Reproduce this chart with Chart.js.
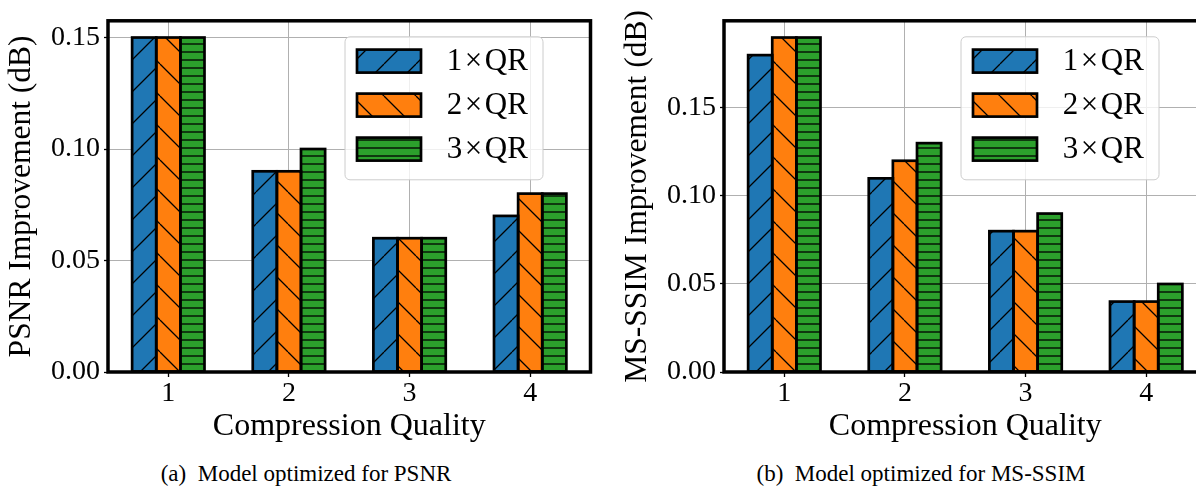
<!DOCTYPE html>
<html>
<head>
<meta charset="utf-8">
<script src="https://cdn.jsdelivr.net/npm/chart.js@4.4.1/dist/chart.umd.min.js"></script>
<style>
  html, body { margin: 0; padding: 0; background: #fff; }
  body { width: 1196px; height: 492px; overflow: hidden; position: relative; font-family: "Liberation Serif", serif; }
  .panel { position: absolute; top: 0; }
  .panel canvas { display: block; }
  .caption { position: absolute; top: 459px; font-size: 23px; line-height: 30px; white-space: pre; transform: translateX(-50%); color: #000; }
</style>
</head>
<body>
<div class="panel" style="left:0"><canvas id="psnrChart" width="600" height="450"></canvas></div>
<div class="panel" style="left:616px"><canvas id="ssimChart" width="600" height="450"></canvas></div>
<div class="caption" style="left:306px">(a)  Model optimized for PSNR</div>
<div class="caption" style="left:921px">(b)  Model optimized for MS-SSIM</div>
<script>
// data
const qualities = ["1", "2", "3", "4"];
const seriesNames = ["1×QR", "2×QR", "3×QR"];
const psnr1x = [0.15, 0.09, 0.06, 0.07];
const psnr2x = [0.15, 0.09, 0.06, 0.08];
const psnr3x = [0.15, 0.10, 0.06, 0.08];
const ssim1x = [0.18, 0.11, 0.08, 0.04];
const ssim2x = [0.19, 0.12, 0.08, 0.04];
const ssim3x = [0.19, 0.13, 0.09, 0.05];
const yTicks = [0, 0.05, 0.10, 0.15];

const barColors = ["#1f77b4", "#ff7f0e", "#2ca02c"];
const hatchKinds = ["/", "\\", "-"];
const family = "'Liberation Serif', 'Times New Roman', serif";

// build a hatch pattern tile like matplotlib's hatch
function makeHatch(color, kind) {
    const size = kind === "-" ? 8 : 32;
    const c = document.createElement("canvas");
    c.width = size;
    c.height = size;
    const g = c.getContext("2d");
    g.fillStyle = color;
    g.fillRect(0, 0, size, size);
    g.strokeStyle = "#000";
    g.lineWidth = 1.3;
    g.beginPath();
    if (kind === "-") {
        g.moveTo(0, size / 2);
        g.lineTo(size, size / 2);
    } else {
        for (let k = -1; k <= 1; k++) {
            const x0 = k * size;
            if (kind === "/") { g.moveTo(x0, size); g.lineTo(x0 + size, 0); }
            else { g.moveTo(x0, 0); g.lineTo(x0 + size, size); }
        }
    }
    g.stroke();
    return g.createPattern(c, "repeat");
}

const hatches = barColors.map((c, i) => makeHatch(c, hatchKinds[i]));

// black bar edges centered on the bar outline
const barEdges = {
    id: "barEdges",
    afterDatasetsDraw(chart) {
        const ctx = chart.ctx;
        ctx.save();
        ctx.strokeStyle = "#000";
        ctx.lineWidth = 2.7;
        chart.data.datasets.forEach((ds, i) => {
            chart.getDatasetMeta(i).data.forEach(bar => {
                const p = bar.getProps(["x", "y", "base", "width"], true);
                ctx.strokeRect(p.x - p.width / 2, p.y, p.width, p.base - p.y);
            });
        });
        ctx.restore();
    }
};

// legend box inside the plot + the four spines
const frameAndLegend = {
    id: "frameAndLegend",
    afterDraw(chart) {
        const { ctx, chartArea } = chart;
        const w = 198, h = 143;
        const left = chartArea.right - 47.5 - w;
        const top = chartArea.top + 16;

        ctx.save();
        ctx.beginPath();
        ctx.roundRect(left, top, w, h, 5);
        ctx.fillStyle = "rgba(255,255,255,0.8)";
        ctx.fill();
        ctx.strokeStyle = "#cccccc";
        ctx.lineWidth = 1;
        ctx.stroke();

        chart.data.datasets.forEach((ds, i) => {
            const cy = top + 24.3 + 44 * i;
            ctx.fillStyle = ds.backgroundColor;
            ctx.fillRect(left + 12, cy - 11.5, 64, 23);
            ctx.strokeStyle = "#000";
            ctx.lineWidth = 2.7;
            ctx.strokeRect(left + 12, cy - 11.5, 64, 23);
            ctx.fillStyle = "#000";
            ctx.font = "31px " + family;
            ctx.textAlign = "left";
            ctx.textBaseline = "middle";
            ctx.fillText(ds.label.replace("×", "\u200a×\u200a"), left + 101.7, cy + 1);
        });

        ctx.strokeStyle = "#000";
        ctx.lineWidth = 3.5;
        ctx.strokeRect(chartArea.left, chartArea.top, chartArea.right - chartArea.left, chartArea.bottom - chartArea.top);
        ctx.restore();
    }
};

function createChart(canvasId, series, yMax, yTitle) {
    const ctx = document.getElementById(canvasId).getContext("2d");
    return new Chart(ctx, {
        type: "bar",
        data: {
            labels: qualities,
            datasets: series.map((values, i) => ({
                label: seriesNames[i],
                data: values,
                backgroundColor: hatches[i],
                borderWidth: 0,
                barPercentage: 1.0,
                categoryPercentage: 0.6
            }))
        },
        plugins: [barEdges, frameAndLegend],
        options: {
            responsive: false,
            animation: false,
            events: [],
            layout: { padding: { top: 18, right: 9.5, bottom: 4, left: 0 } },
            plugins: {
                legend: { display: false },
                tooltip: { enabled: false }
            },
            scales: {
                x: {
                    offset: true,
                    z: 1,
                    grid: { offset: false, color: "#b0b0b0", lineWidth: 1, tickLength: 5, tickColor: "#000", tickWidth: 1.3 },
                    border: { display: false },
                    ticks: { color: "#000", font: { family: family, size: 28 }, padding: 0, maxRotation: 0 },
                    title: { display: true, text: "Compression Quality", color: "#000", font: { family: family, size: 32 }, padding: 0 },
                    afterFit: s => { s.height = 74; }
                },
                y: {
                    min: 0,
                    max: yMax,
                    z: 1,
                    afterBuildTicks: s => { s.ticks = yTicks.map(v => ({ value: v })); },
                    grid: { color: "#b0b0b0", lineWidth: 1, tickLength: 4, tickColor: "#000", tickWidth: 1.3 },
                    border: { display: false },
                    ticks: { color: "#000", font: { family: family, size: 28 }, padding: 4, callback: v => v.toFixed(2) },
                    title: { display: true, text: yTitle, color: "#000", font: { family: family, size: 31.5 }, padding: { top: 3, bottom: 0 } },
                    afterFit: s => { s.width = 108; }
                }
            }
        }
    });
}

createChart("psnrChart", [psnr1x, psnr2x, psnr3x], 0.1575, "PSNR Improvement (dB)");
createChart("ssimChart", [ssim1x, ssim2x, ssim3x], 0.1995, "MS-SSIM Improvement (dB)");
</script>
</body>
</html>
